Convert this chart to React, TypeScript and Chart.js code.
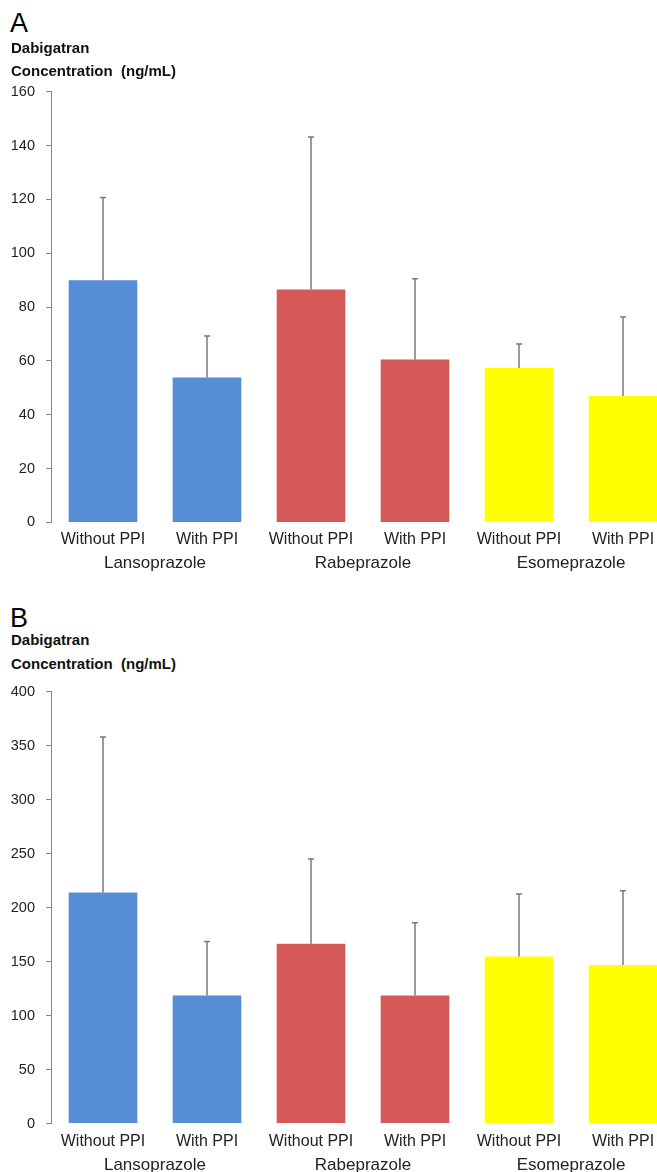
import React, { useEffect, useRef } from "react";
import { Chart, registerables } from "chart.js";

Chart.register(...registerables);

// ---- data ----
const categories = ["Without PPI", "With PPI", "Without PPI", "With PPI", "Without PPI", "With PPI"];
const drugs = ["Lansoprazole", "Rabeprazole", "Esomeprazole"];
const barColors = ["#558ED5", "#558ED5", "#D55A57", "#D55A57", "#FFFF00", "#FFFF00"];

const meanA = [90.0, 53.8, 86.5, 60.5, 57.4, 47.0];
const sdA = [30.7, 15.4, 56.7, 30.0, 8.9, 29.3];
const yMaxA = 160;
const yStepA = 20;

const meanB = [214.0, 118.6, 166.5, 118.6, 154.7, 147.0];
const sdB = [144.0, 50.0, 78.5, 67.4, 58.0, 68.7];
const yMaxB = 400;
const yStepB = 50;

const FONT = "'Liberation Sans', Arial, sans-serif";

type PanelProps = {
  letter: string;
  top: number;
  means: number[];
  sds: number[];
  yMax: number;
  yStep: number;
  padBottom: number;
  height: number;
  headerTops: [number, number, number];
};

function Panel(p: PanelProps) {
  const ref = useRef<HTMLCanvasElement | null>(null);
  useEffect(() => {
    if (!ref.current) return;
    const errorBars = {
      id: "errorBars" + p.letter,
      afterDatasetsDraw(chart: any) {
        const { ctx } = chart;
        const ys = chart.scales.y;
        const meta = chart.getDatasetMeta(0);
        ctx.save();
        ctx.strokeStyle = "#7a7a7a";
        ctx.lineWidth = 1.5;
        meta.data.forEach((bar: any, i: number) => {
          const x = Math.round(bar.x);
          const y0 = ys.getPixelForValue(p.means[i]);
          const y1 = ys.getPixelForValue(p.means[i] + p.sds[i]);
          ctx.beginPath();
          ctx.moveTo(x, y0);
          ctx.lineTo(x, y1);
          ctx.moveTo(x - 3, y1);
          ctx.lineTo(x + 3, y1);
          ctx.stroke();
        });
        ctx.restore();
      },
    };
    const chart = new Chart(ref.current, {
      type: "bar",
      data: {
        labels: categories,
        datasets: [
          {
            data: p.means,
            backgroundColor: barColors,
            borderWidth: 0,
            barPercentage: 0.66,
            categoryPercentage: 1,
            xAxisID: "x",
            yAxisID: "y",
          },
        ],
      },
      options: {
        responsive: false,
        animation: false,
        devicePixelRatio: 1,
        layout: { padding: { top: 0, bottom: p.padBottom, left: 0, right: 5 } },
        plugins: { legend: { display: false }, tooltip: { enabled: false }, title: { display: false } },
        scales: {
          x: {
            type: "category",
            position: "bottom",
            offset: true,
            afterFit: (s: any) => {
              s.height = 27.2;
            },
            grid: { display: false, drawTicks: false },
            border: { display: false },
            ticks: {
              autoSkip: false,
              maxRotation: 0,
              padding: 8,
              color: "#222",
              font: { family: FONT, size: 16 },
            },
          },
          x2: {
            type: "category",
            position: "bottom",
            labels: drugs,
            offset: true,
            afterFit: (s: any) => {
              s.height = 24;
            },
            grid: { display: false, drawTicks: false },
            border: { display: false },
            ticks: {
              autoSkip: false,
              maxRotation: 0,
              padding: 4,
              color: "#222",
              font: { family: FONT, size: 17 },
            },
          },
          y: {
            min: 0,
            max: p.yMax,
            afterFit: (s: any) => {
              s.width = 51;
            },
            grid: {
              display: true,
              drawOnChartArea: false,
              drawTicks: true,
              tickLength: 5,
              color: "#868686",
            },
            border: { display: true, color: "#868686", width: 1 },
            ticks: {
              stepSize: p.yStep,
              padding: 11,
              color: "#222",
              font: { family: FONT, size: 14.5 },
            },
          },
        },
      },
      plugins: [errorBars],
    } as any);
    return () => chart.destroy();
  }, []);

  const headStyle: React.CSSProperties = {
    position: "absolute",
    left: 11,
    fontFamily: FONT,
    fontWeight: "bold",
    fontSize: 15,
    lineHeight: "15px",
    color: "#111",
    whiteSpace: "pre",
  };
  return (
    <>
      <canvas
        ref={ref}
        width={680}
        height={p.height}
        style={{ position: "absolute", left: 0, top: p.top, width: 680, height: p.height }}
      />
      <div
        style={{
          position: "absolute",
          left: 10,
          top: p.headerTops[0],
          fontFamily: FONT,
          fontSize: 27,
          lineHeight: "27px",
          color: "#000",
        }}
      >
        {p.letter}
      </div>
      <div style={{ ...headStyle, top: p.headerTops[1] }}>Dabigatran</div>
      <div style={{ ...headStyle, top: p.headerTops[2] }}>Concentration  (ng/mL)</div>
    </>
  );
}

export default function App() {
  return (
    <div
      style={{
        position: "absolute",
        left: 0,
        top: 0,
        width: 657,
        height: 1172,
        overflow: "hidden",
        background: "#fff",
      }}
    >
      <Panel
        letter="A"
        top={72.3}
        means={meanA}
        sds={sdA}
        yMax={yMaxA}
        yStep={yStepA}
        padBottom={6.4}
        height={508}
        headerTops={[10.2, 39.8, 63.3]}
      />
      <Panel
        letter="B"
        top={671.7}
        means={meanB}
        sds={sdB}
        yMax={yMaxB}
        yStep={yStepB}
        padBottom={0.2}
        height={503}
        headerTops={[604.7, 631.6, 655.8]}
      />
    </div>
  );
}
